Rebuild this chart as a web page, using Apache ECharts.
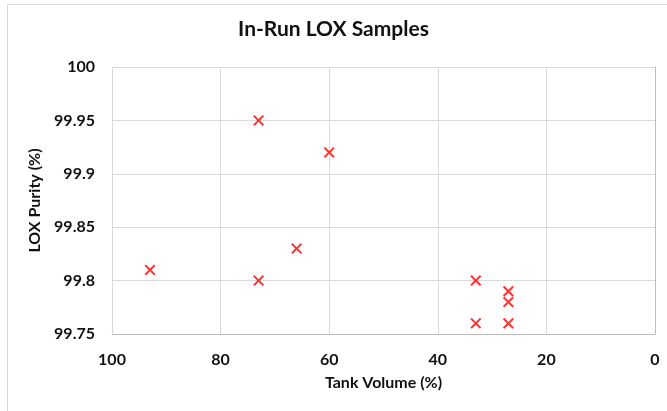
<!DOCTYPE html>
<html>
<head>
<meta charset="utf-8">
<title>In-Run LOX Samples</title>
<script src="https://cdn.jsdelivr.net/npm/echarts@6/dist/echarts.min.js"></script>
<style>
  html, body { margin: 0; padding: 0; background: #fff; }
  #chart { width: 667px; height: 411px; }
</style>
</head>
<body>
<div id="chart"></div>
<script>
// Sample readings: tank volume (%) and LOX purity (%)
const tankVolume = [93, 73, 73, 66, 60, 33, 33, 27, 27, 27];
const loxPurity  = [99.81, 99.95, 99.80, 99.83, 99.92, 99.80, 99.76, 99.79, 99.78, 99.76];

const chartTitle = 'In-Run LOX Samples';
const xAxisName = 'Tank Volume (%)';
const yAxisName = 'LOX Purity (%)';

const FONT = 'Lato, "Open Sans", sans-serif';
const TEXT = '#111111';

// Cross-shaped marker
const crossPath = 'path://M0,1.3 L1.3,0 L5,3.7 L8.7,0 L10,1.3 L6.3,5 L10,8.7 L8.7,10 L5,6.3 L1.3,10 L0,8.7 L3.7,5 Z';

const points = tankVolume.map((v, i) => [v, loxPurity[i]]);

const chart = echarts.init(document.getElementById('chart'), null, { renderer: 'canvas' });
chart.setOption({
  animation: false,
  backgroundColor: '#fff',
  title: {
    text: chartTitle,
    left: 'center',
    top: 14,
    textStyle: { fontFamily: FONT, fontWeight: 'bold', fontSize: 21, color: TEXT }
  },
  graphic: [{
    type: 'rect',
    shape: { x: 7.5, y: 4.5, width: 700, height: 500 },
    style: { fill: 'none', stroke: '#d9d9d9', lineWidth: 1 },
    silent: true,
    z: -1
  }],
  grid: { left: 112, right: 12, top: 67, bottom: 77, containLabel: false },
  xAxis: {
    type: 'value',
    inverse: true,
    min: 0,
    max: 100,
    interval: 20,
    name: xAxisName,
    nameLocation: 'middle',
    nameGap: 41,
    nameTextStyle: { fontFamily: FONT, fontWeight: 'bold', fontSize: 16, color: TEXT },
    axisLine: { show: true, lineStyle: { color: '#bfbfbf', width: 1 } },
    axisTick: { show: false },
    axisLabel: { fontFamily: FONT, fontWeight: 'bold', fontSize: 16, color: TEXT, margin: 18 },
    splitLine: { show: true, lineStyle: { color: '#d9d9d9', width: 1 } }
  },
  yAxis: {
    type: 'value',
    min: 99.75,
    max: 100,
    interval: 0.05,
    name: yAxisName,
    nameLocation: 'middle',
    nameGap: 59,
    nameRotate: 90,
    nameTextStyle: { fontFamily: FONT, fontWeight: 'bold', fontSize: 16, color: TEXT },
    axisLine: { show: true, lineStyle: { color: '#bfbfbf', width: 1 } },
    axisTick: { show: false },
    axisLabel: {
      fontFamily: FONT, fontWeight: 'bold', fontSize: 16, color: TEXT, margin: 17,
      formatter: v => String(+v.toFixed(2))
    },
    splitLine: { show: true, lineStyle: { color: '#d9d9d9', width: 1 } }
  },
  series: [{
    type: 'scatter',
    data: points,
    symbol: crossPath,
    symbolSize: 11,
    itemStyle: { color: '#ff0000' }
  }]
});
</script>
</body>
</html>
